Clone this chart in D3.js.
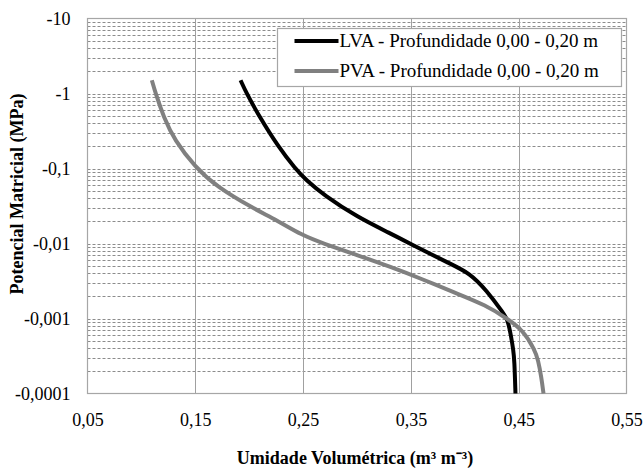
<!DOCTYPE html>
<html>
<head>
<meta charset="utf-8">
<script src="https://cdn.jsdelivr.net/npm/d3@7"></script>
<style>
  body { margin: 0; background: #fff; }
  svg text { font-family: "Liberation Serif", "Times New Roman", serif; }
</style>
</head>
<body>
<svg id="chart" width="643" height="469"></svg>
<script>
// Retention curves (theta in m3/m3, psi in MPa)
var lvaTheta = [0.192, 0.1976, 0.2095, 0.2267, 0.2429, 0.2528, 0.2695, 0.300, 0.331, 0.349, 0.386, 0.405, 0.420, 0.436, 0.440, 0.443, 0.445, 0.446, 0.447];
var lvaPsi   = [-1.5, -1.0, -0.49, -0.197, -0.099, -0.070, -0.044, -0.0226, -0.0136, -0.0100, -0.0054, -0.0040, -0.00238, -0.00117, -0.00095, -0.00057, -0.00038, -0.00028, -0.0001];

var pvaTheta = [0.1097, 0.1132, 0.1206, 0.1308, 0.1498, 0.170, 0.2039, 0.2256, 0.2488, 0.2688, 0.300, 0.331, 0.3615, 0.389, 0.420, 0.439, 0.454, 0.465, 0.468, 0.471, 0.473];
var pvaPsi   = [-1.5, -1.0, -0.487, -0.238, -0.105, -0.0569, -0.0293, -0.0205, -0.0129, -0.0100, -0.0070, -0.0049, -0.0033, -0.00226, -0.0015, -0.0010, -0.0007, -0.00038, -0.00028, -0.000166, -0.0001];

var seriesNames = ["LVA - Profundidade 0,00 - 0,20 m", "PVA - Profundidade 0,00 - 0,20 m"];
var seriesColors = ["#000000", "#808080"];

var xTicks = [0.05, 0.15, 0.25, 0.35, 0.45, 0.55];
var yTicks = [-10, -1, -0.1, -0.01, -0.001, -0.0001];

var xTitle = "Umidade Volumétrica (m³ m⁻³)";
var yTitle = "Potencial Matricial (MPa)";

var serif = "Liberation Serif";

// plot box (don't call it "top", that's window.top)
var pLeft = 87.5, pRight = 626.5, pTop = 18.5, pBottom = 393.5;

var $svg = d3.select("#chart");

var x = d3.scaleLinear().domain([0.05, 0.55]).range([pLeft, pRight]);
var y = d3.scaleLog().domain([-0.0001, -10]).range([pBottom, pTop]);

var fmt = v => String(v).replace(".", ",");

// minor + major horizontal grid (dashed)
var hLines = [];
yTicks.forEach(function(t, i) {
    if (i > 0 && i < yTicks.length - 1) hLines.push(t);
    if (i > 0) {
        for (var m = 2; m <= 9; m++) hLines.push(t * m);
    }
});
$svg.append("g")
    .selectAll("line").data(hLines).enter().append("line")
    .attr("x1", pLeft).attr("x2", pRight)
    .attr("y1", d => Math.round(y(d)) + 0.5).attr("y2", d => Math.round(y(d)) + 0.5)
    .attr("stroke", "#8c8c8c")
    .attr("stroke-width", 1)
    .attr("stroke-dasharray", "3,2");

// vertical grid (solid)
$svg.append("g")
    .selectAll("line").data(xTicks.slice(1, -1)).enter().append("line")
    .attr("x1", d => Math.round(x(d)) + 0.5).attr("x2", d => Math.round(x(d)) + 0.5)
    .attr("y1", pTop).attr("y2", pBottom)
    .attr("stroke", "#a0a0a0")
    .attr("stroke-width", 1);

// plot border
$svg.append("rect")
    .attr("x", pLeft).attr("y", pTop)
    .attr("width", pRight - pLeft).attr("height", pBottom - pTop)
    .attr("fill", "none")
    .attr("stroke", "#a6a6a6")
    .attr("stroke-width", 1.2);

// axes (labels only)
var xAxis = $svg.append("g")
    .attr("transform", `translate(0 ${pBottom + 17})`)
    .call(d3.axisBottom(x).tickValues(xTicks).tickFormat(fmt).tickSize(0));
xAxis.attr("font-family", serif).attr("font-size", 18);
xAxis.select(".domain").remove();
xAxis.selectAll("text")
    .attr("fill", "#000")
    .attr("dy", "0.71em");

var yAxis = $svg.append("g")
    .attr("transform", `translate(${pLeft - 17} 0)`)
    .call(d3.axisLeft(y).tickValues(yTicks).tickFormat(fmt).tickSize(0));
yAxis.attr("font-family", serif).attr("font-size", 18);
yAxis.select(".domain").remove();
yAxis.selectAll("text")
    .attr("fill", "#000")
    .attr("x", 0);

// curves - basis smooths out my reading noise
var line = d3.line()
    .x(d => x(d[0]))
    .y(d => y(d[1]))
    .curve(d3.curveBasis);

var curves = [d3.zip(lvaTheta, lvaPsi), d3.zip(pvaTheta, pvaPsi)];
curves.forEach(function(pts, i) {
    $svg.append("path")
        .datum(pts)
        .attr("d", line)
        .attr("fill", "none")
        .attr("stroke", seriesColors[i])
        .attr("stroke-width", 4)
        .attr("stroke-linejoin", "round");
});

// legend
var $legend = $svg.append("g").attr("transform", "translate(277.5 28.5)");
$legend.append("rect")
    .attr("width", 344).attr("height", 58)
    .attr("fill", "#fff")
    .attr("stroke", "#a6a6a6")
    .attr("stroke-width", 1.2);
seriesNames.forEach(function(name, i) {
    var ly = 12.5 + i * 30;
    $legend.append("line")
        .attr("x1", 17).attr("x2", 61)
        .attr("y1", ly).attr("y2", ly)
        .attr("stroke", seriesColors[i])
        .attr("stroke-width", 4);
    $legend.append("text")
        .attr("x", 62).attr("y", ly + 6)
        .attr("font-size", 19)
        .attr("fill", "#000")
        .text(name);
});

// axis titles
$svg.append("text")
    .attr("x", (pLeft + pRight) / 2 - 2)
    .attr("y", 464)
    .attr("text-anchor", "middle")
    .attr("font-size", 18)
    .attr("font-weight", "bold")
    .text(xTitle);

$svg.append("text")
    .attr("transform", `translate(23 ${(pTop + pBottom) / 2 - 12}) rotate(-90)`)
    .attr("text-anchor", "middle")
    .attr("font-size", 18)
    .attr("font-weight", "bold")
    .text(yTitle);
</script>
</body>
</html>
